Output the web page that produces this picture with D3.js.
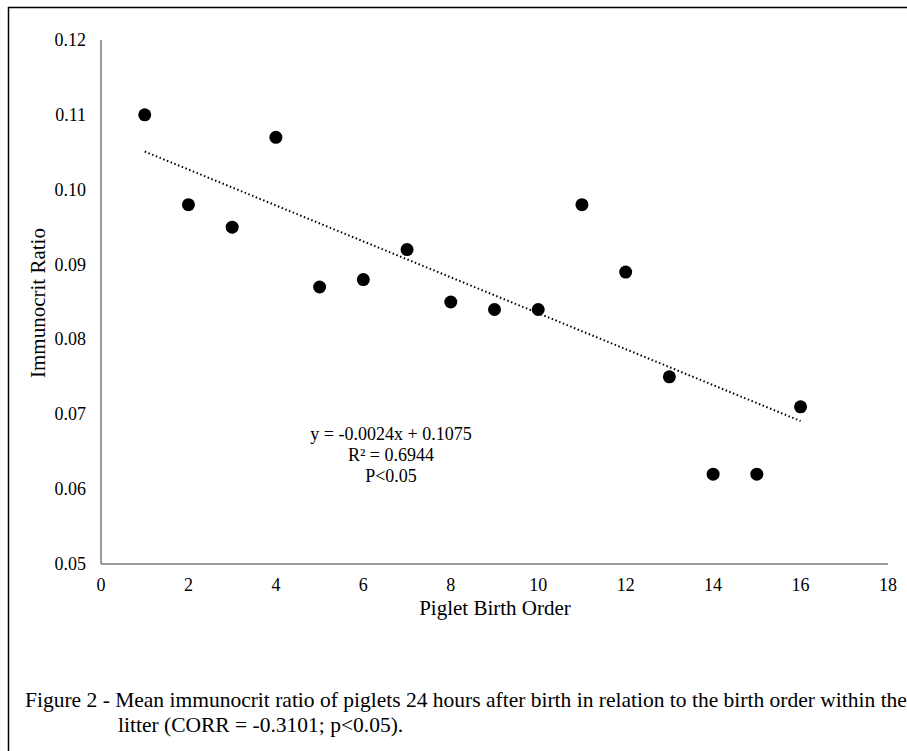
<!DOCTYPE html>
<html>
<head>
<meta charset="UTF-8">
<style>
  html, body { margin: 0; padding: 0; background: #fff; }
  svg { display: block; }
</style>
<script src="https://d3js.org/d3.v7.min.js"></script>
</head>
<body>
<div id="viz"></div>
<script>
// birth order vs mean immunocrit ratio
const birthOrder = [1, 2, 3, 4, 5, 6, 7, 8, 9, 10, 11, 12, 13, 14, 15, 16];
const immunocrit = [0.110, 0.098, 0.095, 0.107, 0.087, 0.088, 0.092, 0.085, 0.084, 0.084, 0.098, 0.089, 0.075, 0.062, 0.062, 0.071];
const xTicks = [0, 2, 4, 6, 8, 10, 12, 14, 16, 18];
const yTicks = [0.05, 0.06, 0.07, 0.08, 0.09, 0.10, 0.11, 0.12];
// linear trend printed on the chart
const slope = -0.0024, intercept = 0.1075;
const trendLabels = ["y = -0.0024x + 0.1075", "R² = 0.6944", "P<0.05"];
const caption = [
  "Figure 2 - Mean immunocrit ratio of piglets 24 hours after birth in relation to the birth order within the",
  "litter (CORR = -0.3101; p<0.05)."
];

const width = 907, height = 751;
const font = "'Liberation Serif', 'Times New Roman', serif";

const svg = d3.select("#viz").append("svg")
    .attr("width", width)
    .attr("height", height)
    .attr("font-family", font);

// outer frame (left and top edges only show)
svg.append("path")
    .attr("d", `M8.5,${height} V7.5 H${width}`)
    .attr("fill", "none")
    .attr("stroke", "#000")
    .attr("stroke-width", 1.5);

const x = d3.scaleLinear().domain([0, 18]).range([101, 888]);
const y = d3.scaleLinear().domain([0.05, 0.12]).range([564, 40]);

const axisColor = "#7a7a7a";

// axes lines, no tick marks
svg.append("line")
    .attr("x1", x(0)).attr("x2", x(18))
    .attr("y1", y(0.05)).attr("y2", y(0.05))
    .attr("stroke", axisColor).attr("stroke-width", 1.5);
svg.append("line")
    .attr("x1", x(0)).attr("x2", x(0))
    .attr("y1", y(0.05)).attr("y2", y(0.12))
    .attr("stroke", axisColor).attr("stroke-width", 1.5);

svg.append("g")
  .selectAll("text")
  .data(xTicks)
  .join("text")
    .attr("x", d => x(d))
    .attr("y", y(0.05) + 27)
    .attr("text-anchor", "middle")
    .attr("font-size", 18)
    .text(d => d);

svg.append("g")
  .selectAll("text")
  .data(yTicks)
  .join("text")
    .attr("x", x(0) - 15)
    .attr("y", d => y(d) + 6)
    .attr("text-anchor", "end")
    .attr("font-size", 18)
    .text(d => d.toFixed(2));

svg.append("text")
    .attr("x", 495)
    .attr("y", 615)
    .attr("text-anchor", "middle")
    .attr("font-size", 21)
    .text("Piglet Birth Order");

svg.append("text")
    .attr("transform", "translate(45,303) rotate(-90)")
    .attr("text-anchor", "middle")
    .attr("font-size", 21)
    .text("Immunocrit Ratio");

// trend line
svg.append("line")
    .attr("x1", x(1)).attr("y1", y(slope * 1 + intercept))
    .attr("x2", x(16)).attr("y2", y(slope * 16 + intercept))
    .attr("stroke", "#000")
    .attr("stroke-width", 2)
    .attr("stroke-dasharray", "1.5,2.5");

svg.append("g")
  .selectAll("circle")
  .data(birthOrder)
  .join("circle")
    .attr("cx", d => x(d))
    .attr("cy", (d, i) => y(immunocrit[i]))
    .attr("r", 6.5)
    .attr("fill", "#000");

svg.append("g")
  .selectAll("text")
  .data(trendLabels)
  .join("text")
    .attr("x", 391)
    .attr("y", (d, i) => 440 + i * 21)
    .attr("text-anchor", "middle")
    .attr("font-size", 18)
    .text(d => d);

svg.append("g")
  .selectAll("text")
  .data(caption)
  .join("text")
    .attr("x", (d, i) => i === 0 ? 25 : 118)
    .attr("y", (d, i) => 707 + i * 25)
    .attr("font-size", 21.5)
    .text(d => d);
</script>
</body>
</html>
